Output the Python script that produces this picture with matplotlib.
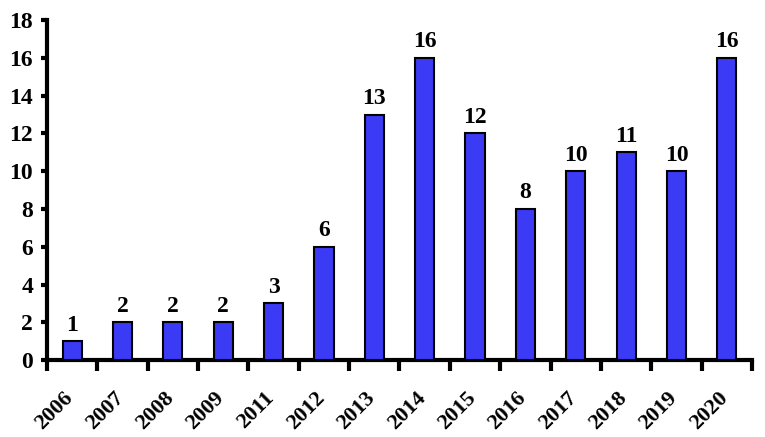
import matplotlib.pyplot as plt
import numpy as np

years = ["2006", "2007", "2008", "2009", "2011", "2012", "2013", "2014",
         "2015", "2016", "2017", "2018", "2019", "2020"]
counts = [1, 2, 2, 2, 3, 6, 13, 16, 12, 8, 10, 11, 10, 16]

plt.rcParams['font.family'] = ['Liberation Serif', 'DejaVu Serif']
plt.rcParams['font.weight'] = 'bold'

fig = plt.figure(figsize=(7.65, 4.37), dpi=100)
ax = fig.add_axes([0.0614, 0.176, 0.983 - 0.0614, 0.954 - 0.176])

x = np.arange(len(years))
ax.bar(x, counts, width=0.38, color='#3b3bf5', edgecolor='black', linewidth=1.5, zorder=3)
for xi, v in zip(x, counts):
    ax.annotate(str(v), (xi, v), xytext=(0, 4), textcoords='offset points',
                ha='center', va='bottom', fontsize=17, fontweight='bold')

ax.set_xlim(-0.5, len(years) - 0.5)
ax.set_ylim(0, 18)
ax.set_yticks(range(0, 19, 2))
ax.set_yticklabels([str(v) for v in range(0, 19, 2)], fontsize=17, fontweight='bold')

ax.set_xticks(np.append(x - 0.5, len(years) - 0.5))
ax.set_xticklabels([''] * (len(years) + 1))
for xi, yr in zip(x, years):
    ax.annotate(yr, (xi, 0), xycoords=ax.get_xaxis_transform(),
                xytext=(-9, -28), textcoords='offset pixels',
                ha='right', va='top', rotation=45, rotation_mode='anchor',
                fontsize=16, fontweight='bold', annotation_clip=False)
ax.tick_params(axis='x', which='major', length=8, width=3, direction='out')
ax.tick_params(axis='y', length=4, width=3, direction='out', pad=6)

for s in ['top', 'right']:
    ax.spines[s].set_visible(False)
for s in ['left', 'bottom']:
    ax.spines[s].set_linewidth(3)

fig.savefig('out.png', dpi=100)
